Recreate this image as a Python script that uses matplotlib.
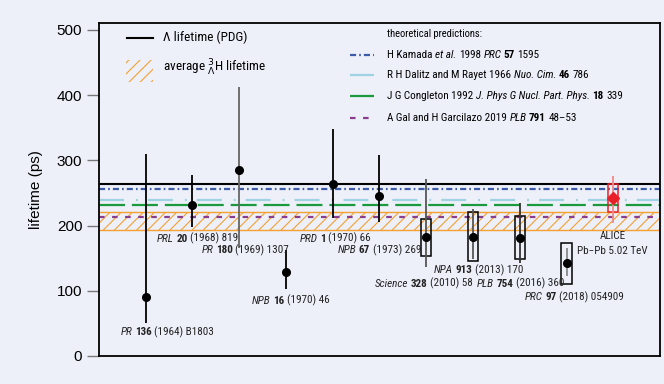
import matplotlib
matplotlib.use("Agg")
import matplotlib.pyplot as plt
from matplotlib.patches import Rectangle
from matplotlib.offsetbox import TextArea, HPacker, AnnotationBbox

# hypertriton lifetime measurements (ps); references as (journal, volume, rest)
ref_labels = [
    ("PR", "136", "(1964) B1803"),
    ("PRL", "20", "(1968) 819"),
    ("PR", "180", "(1969) 1307"),
    ("NPB", "16", "(1970) 46"),
    ("PRD", "1", "(1970) 66"),
    ("NPB", "67", "(1973) 269"),
    ("Science", "328", "(2010) 58"),
    ("NPA", "913", "(2013) 170"),
    ("PLB", "754", "(2016) 360"),
    ("PRC", "97", "(2018) 054909"),
]
alice_label = "ALICE\nPb\u2212Pb 5.02 TeV"
lifetime = [90, 232, 285, 128, 264, 246, 182, 183, 181, 142, 242]
stat_up = [220, 45, 127, 35, 84, 62, 89, 42, 53, 24, 34]
stat_down = [40, 34, 119, 26, 52, 41, 45, 35, 38, 20, 38]
syst_up = [0, 0, 0, 0, 0, 0, 28, 38, 33, 31, 22]
syst_down = [0, 0, 0, 0, 0, 0, 28, 37, 33, 32, 21]

# reference values (ps)
lambda_pdg = 263.2
hyp_avg_low = 193
hyp_avg_high = 220
theory_names = [
    [("H Kamada", ""), ("et al.", "i"), ("1998", ""), ("PRC", "i"), ("57", "b"), ("1595", "")],
    [("R H Dalitz and M Rayet 1966", ""), ("Nuo. Cim.", "i"), ("46", "b"), ("786", "")],
    [("J G Congleton 1992", ""), ("J. Phys G Nucl. Part. Phys.", "i"), ("18", "b"), ("339", "")],
    [("A Gal and H Garcilazo 2019", ""), ("PLB", "i"), ("791", "b"), ("48\u201353", "")],
]
theory_values = [256, 239, 232, 213]

bg = "#edf0f9"
narrow = ["Liberation Sans Narrow", "Roboto Condensed", "DejaVu Sans"]
plt.rcParams["font.family"] = ["Liberation Sans", "DejaVu Sans"]
plt.rcParams["mathtext.fontset"] = "custom"
plt.rcParams["mathtext.rm"] = "Liberation Sans Narrow"
plt.rcParams["lines.scale_dashes"] = False
plt.rcParams["hatch.linewidth"] = 0.8


def rich_text(ax, x, y, parts, size, color="#222222"):
    # parts: list of (string, style) with style "" / "i" / "b"
    boxes = []
    for s, st in parts:
        props = dict(family=narrow, fontsize=size, color=color)
        if st == "i":
            props["style"] = "italic"
        if st == "b":
            props["weight"] = "bold"
        boxes.append(TextArea(s, textprops=props))
    pack = HPacker(children=boxes, align="baseline", pad=0, sep=size * 0.22)
    ab = AnnotationBbox(pack, (x, y), xycoords="data", frameon=False,
                        box_alignment=(0, 0.5), pad=0, zorder=5)
    ax.add_artist(ab)


fig = plt.figure(figsize=(6.64, 3.84), dpi=100, facecolor=bg)
ax = fig.add_axes([0.149, 0.073, 0.845, 0.868], facecolor=bg)
ax.set_xlim(0, 12)
ax.set_ylim(0, 511)

# averaged hypertriton lifetime band
ax.fill_between([0, 12], hyp_avg_low, hyp_avg_high, facecolor="none",
                edgecolor="#f5a030", hatch="///", linewidth=0, zorder=1)
ax.axhline(hyp_avg_low, color="#f5a030", lw=1, zorder=1)
ax.axhline(hyp_avg_high, color="#f5a030", lw=1, zorder=1)

# theory lines
theory_styles = [
    dict(color="#3d5ba8", dashes=(4.4, 2.2, 1.2, 2.2)),
    dict(color="#9fd3e3", dashes=(18, 8.6, 1.4, 7.2)),
    dict(color="#1a9a3c", dashes=(18.7, 5)),
    dict(color="#8a3d8f", dashes=(4, 5.4)),
]
ax.axhline(lambda_pdg, color="black", lw=1.5, zorder=2)
for val, st in zip(theory_values, theory_styles):
    ax.axhline(val, lw=1.6, zorder=2, **st)

# measurements
xpos = list(range(1, len(lifetime) + 1))
bar_colors = ["black", "black", "#666666", "black", "black", "black",
              "#555555", "#555555", "#333333", "#888888", "#f28a8a"]
box_w = 0.22
for i, x in enumerate(xpos):
    red = i == len(xpos) - 1
    ax.errorbar(x, lifetime[i], yerr=[[stat_down[i]], [stat_up[i]]],
                fmt="D" if red else "o", ms=6 if red else 5.5,
                color="#e8202a" if red else "black",
                ecolor=bar_colors[i], elinewidth=1.3, capsize=0, zorder=4)
    if syst_up[i] > 0:
        ax.add_patch(Rectangle((x - box_w / 2, lifetime[i] - syst_down[i]),
                               box_w, syst_up[i] + syst_down[i], fill=False,
                               edgecolor="#e8202a" if red else "black",
                               lw=1.1, zorder=3))

# reference labels
label_pos = [(0.46, 37), (1.24, 180), (2.20, 162), (3.27, 85), (4.30, 180),
             (5.11, 162), (5.90, 111), (7.17, 132), (8.09, 111), (9.11, 90)]
for (lx, ly), (jr, vol, rest) in zip(label_pos, ref_labels):
    rich_text(ax, lx, ly, [(jr, "i"), (vol, "b"), (rest, "")], 8)
ax.text(10.99, 172, alice_label, fontsize=8, family=narrow,
        color="#222222", ha="center", va="center", linespacing=1.6)

# key on the left
ax.plot([0.60, 1.16], [488, 488], color="black", lw=1.5)
ax.add_patch(Rectangle((0.58, 420), 0.57, 34, facecolor="none",
                       edgecolor="#f5a030", hatch="///", lw=0))
ax.text(1.37, 488, "\u039b lifetime (PDG)", fontsize=9.5, family=narrow,
        va="center")
ax.text(1.37, 442, r"average ${}^{3}_{\Lambda}$H lifetime", fontsize=9.5,
        family=narrow, va="center")

# theory key on the right
ax.text(6.17, 493, "theoretical predictions:", fontsize=7.6, family=narrow,
        va="center")
for yk, name, st in zip([462, 430, 399, 365], theory_names, theory_styles):
    ax.plot([5.37, 5.89], [yk, yk], lw=1.6, **st)
    rich_text(ax, 6.17, yk, name, 8, color="black")

ax.set_xticks([])
ax.set_yticks([0, 100, 200, 300, 400, 500])
ax.tick_params(axis="y", direction="out", length=9, width=1, color="#777777",
               labelsize=11, pad=3)
ax.set_ylabel("lifetime (ps)", fontsize=11, labelpad=10)
for sp in ax.spines.values():
    sp.set_linewidth(1.3)
    sp.set_color("black")

fig.savefig("out.png", dpi=100, facecolor=bg)
